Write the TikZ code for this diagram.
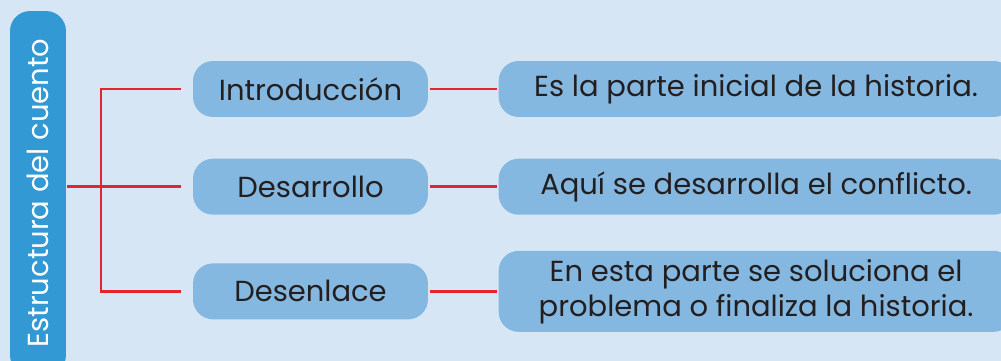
\documentclass[tikz,border=0pt]{standalone}
\usepackage{fontspec}
\setmainfont{Poppins}
\usetikzlibrary{positioning}
\definecolor{bgblue}{HTML}{D6E6F4}
\definecolor{barblue}{HTML}{3399D4}
\definecolor{boxblue}{HTML}{85B8E0}
\definecolor{linkred}{HTML}{E3262E}
\definecolor{txtgray}{HTML}{231F20}
\tikzset{%
	part/.style={rectangle, rounded corners=0.4cm, fill=boxblue, minimum width=4.7cm,%
		minimum height=1.12cm, inner sep=0mm, text=txtgray, font=\fontsize{16.5}{20}\selectfont},
	desc/.style={part, minimum width=10.3cm, align=center},
	title/.style={part, fill=barblue, text=white, minimum width=1.12cm, minimum height=7.28cm},
	link/.style={draw=linkred, line width=1.7pt, line cap=rect}
}
\begin{document}
\begin{tikzpicture}[x=0.02cm, y=-0.02cm]
	\useasboundingbox (0,0) rectangle (1001,361);
	\fill[bgblue] (0,0) rectangle (1001,361);
	\clip (0,0) rectangle (1001,361);

	%title bar
	\node[title] (bar) at (38,193) {\rotatebox{90}{Estructura del cuento}};
	\coordinate (fork) at (101,184);

	%parts
	\node[part] (intro) at (310.5,89) {Introducción};
	\node[part, below=0.82cm of intro] (devel) {Desarrollo};
	\node[part, below=0.96cm of devel] (endpart) {Desenlace};

	%descriptions
	\node[desc, right=1.4cm of intro] (introtxt) {Es la parte inicial de la historia.};
	\node[desc, right=1.4cm of devel] (develtxt) {Aquí se desarrolla el conflicto.};
	\node[desc, right=1.4cm of endpart, minimum height=1.62cm] (endtxt)
		{En esta parte se soluciona el\\problema o finaliza la historia.};

	%connections
	\draw[link, shorten <=0.04cm] (bar.east |- devel) -- (fork |- devel);
	\draw[link] (fork |- intro) -- (fork |- endpart);
	\foreach \p in {intro, devel, endpart}
		\draw[link, shorten >=0.26cm] (fork |- \p) -- (\p.west);
	\foreach \p/\d in {intro/introtxt, devel/develtxt, endpart/endtxt}
		\draw[link, shorten <=0.06cm, shorten >=0.06cm] (\p) -- (\d);
\end{tikzpicture}
\end{document}
